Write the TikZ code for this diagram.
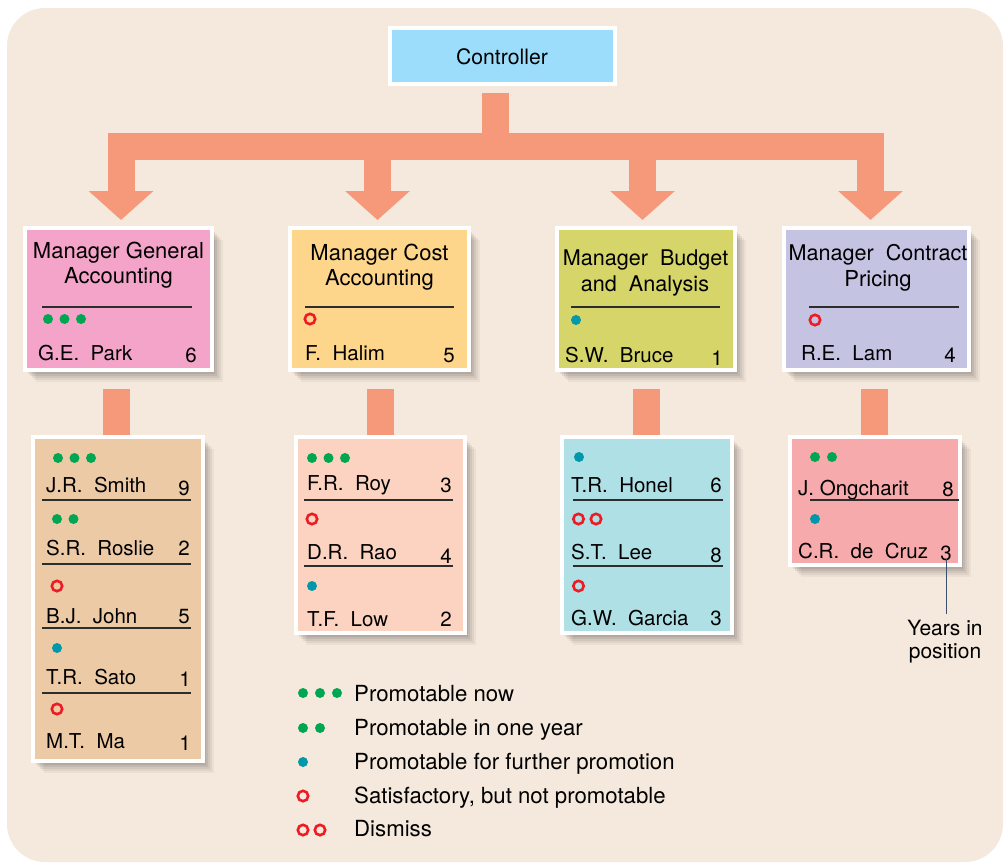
\documentclass[tikz,border=0pt]{standalone}
\usepackage{fontspec}
\setmainfont{TeX Gyre Heros}
\newfontfamily\widefont[WordSpace=2]{TeX Gyre Heros}
\usetikzlibrary{arrows.meta,shadows,calc}
\definecolor{bgc}{RGB}{245,232,220}
\definecolor{ctrlc}{RGB}{155,221,250}
\definecolor{mAc}{RGB}{244,164,201}
\definecolor{mBc}{RGB}{253,214,139}
\definecolor{mCc}{RGB}{214,213,106}
\definecolor{mDc}{RGB}{196,195,226}
\definecolor{sAc}{RGB}{236,202,166}
\definecolor{sBc}{RGB}{252,211,192}
\definecolor{sCc}{RGB}{174,224,230}
\definecolor{sDc}{RGB}{246,170,172}
\definecolor{salmon}{RGB}{246,152,122}
\definecolor{dgreen}{RGB}{0,166,81}
\definecolor{dteal}{RGB}{0,152,170}
\definecolor{dred}{RGB}{237,28,36}
\definecolor{linec}{RGB}{45,45,45}
\definecolor{annot}{RGB}{60,80,105}
\newcommand\fttl{\fontsize{22}{26}\selectfont}
\newcommand\fttlw{\widefont\fontsize{21.6}{26}\selectfont}
\newcommand\fnm{\widefont\fontsize{20.5}{24}\selectfont}
\newcommand\fnmn{\fontsize{20.5}{24}\selectfont}
\newcommand\fleg{\fontsize{22.2}{26}\selectfont}
\newcommand\fyrs{\fontsize{21}{23}\selectfont}
\newcommand\fctl{\fontsize{21.2}{24}\selectfont}
\newcommand\GD[2]{\fill[dgreen] (#1,#2) circle[radius=5pt];}
\newcommand\TD[2]{\fill[dteal] (#1,#2) circle[radius=5pt];}
\newcommand\RC[2]{\draw[dred, line width=2.6pt] (#1,#2) circle[radius=5.2pt];}
\begin{document}
\begin{tikzpicture}[x=1pt,y=-1pt,
  orgbox/.style={draw=white, line width=4pt, inner sep=0pt, outer sep=2pt},
  shd/.style={
    general shadow={fill=black, opacity=0.07, shadow xshift=3pt, shadow yshift=-4pt},
    general shadow={fill=black, opacity=0.07, shadow xshift=5pt, shadow yshift=-6pt},
    general shadow={fill=black, opacity=0.06, shadow xshift=7pt, shadow yshift=-8pt},
    general shadow={fill=black, opacity=0.05, shadow xshift=9pt, shadow yshift=-10pt},
    general shadow={fill=black, opacity=0.04, shadow xshift=11pt, shadow yshift=-12pt}},
  fatarrow/.style={draw=salmon, line width=27pt, line join=miter, line cap=butt, -{Triangle[width=63pt,length=29pt]}},
  stubline/.style={draw=salmon, line width=27pt},
  ttl/.style={inner sep=0pt, anchor=base, font=\fttl},
  ttlw/.style={inner sep=0pt, anchor=base, font=\fttlw},
  nm/.style={inner sep=0pt, anchor=base west, font=\fnm},
  nmn/.style={inner sep=0pt, anchor=base west, font=\fnmn},
  yr/.style={inner sep=0pt, anchor=base east, font=\fnmn},
  divline/.style={draw=linec, line width=1.1pt},
  legtxt/.style={inner sep=0pt, anchor=base west, font=\fleg}
]
\useasboundingbox (0,0) rectangle (1004,863);
\fill[bgc, rounded corners=38pt] (7,8) rectangle (1003,862);

% boxes
\node[orgbox, fill=ctrlc, minimum width=225pt, minimum height=56pt] (c) at (502.5,56) {};
\node[orgbox, shd, fill=mAc, minimum width=187pt, minimum height=142pt] (m1) at (118.5,299) {};
\node[orgbox, shd, fill=mBc, minimum width=179pt, minimum height=142pt] (m2) at (379.5,299) {};
\node[orgbox, shd, fill=mCc, minimum width=178pt, minimum height=142pt] (m3) at (646,299) {};
\node[orgbox, shd, fill=mDc, minimum width=185pt, minimum height=142pt] (m4) at (876.5,299) {};
\node[orgbox, shd, fill=sAc, minimum width=170pt, minimum height=324pt] (s1) at (118,599) {};
\node[orgbox, shd, fill=sBc, minimum width=169pt, minimum height=196pt] (s2) at (380.5,535) {};
\node[orgbox, shd, fill=sCc, minimum width=170pt, minimum height=196pt] (s3) at (647,535) {};
\node[orgbox, shd, fill=sDc, minimum width=170pt, minimum height=128pt] (s4) at (875,501) {};

% fat connectors
\coordinate (stemtop) at ($(c.south)+(-7,7)$);
\draw[fatarrow] (stemtop) -- ++(0,53.5) -| ($(m1.north)+(2.5,-6)$);
\draw[fatarrow] (stemtop) -- ++(0,53.5) -| ($(m2.north)+(-2,-6)$);
\draw[fatarrow] (stemtop) -- ++(0,53.5) -| ($(m3.north)+(-3.5,-6)$);
\draw[fatarrow] (stemtop) -- ++(0,53.5) -| ($(m4.north)+(-6,-6)$);
\draw[stubline] ($(s1.north |- m1.south)+(-1.5,17)$) -- ($(s1.north)+(-1.5,0)$);
\draw[stubline] ($(s2.north |- m2.south)+(0,17)$) -- (s2.north);
\draw[stubline] ($(s3.north |- m3.south)+(-0.5,17)$) -- ($(s3.north)+(-0.5,0)$);
\draw[stubline] ($(s4.north |- m4.south)+(-0.5,17)$) -- ($(s4.north)+(-0.5,0)$);

% controller
\node[inner sep=0pt, anchor=base, font=\fctl] (ct) at (502,64) {Controller};

% manager titles
\node[ttl] (m1a) at (118.5,258) {Manager General};
\node[ttl] (m1b) at (118.5,283) {Accounting};
\node[ttl] (m2a) at (379.5,260.5) {Manager Cost};
\node[ttl] (m2b) at (379.5,285.5) {Accounting};
\node[ttlw] (m3a) at (645.5,265) {Manager Budget};
\node[ttlw] (m3b) at (645,291.5) {and Analysis};
\node[ttlw] (m4a) at (878,260) {Manager Contract};
\node[ttl] (m4b) at (878,286.5) {Pricing};

% manager rules
\draw[divline] (42,307) -- (192,307);
\draw[divline] (305,307) -- (454,307);
\draw[divline] (571,307) -- (720,307);
\draw[divline] (809,307) -- (959,307);

% manager marks
\GD{48}{319}\GD{64.5}{319}\GD{81}{319}
\RC{310}{319}
\TD{576}{320}
\RC{815}{320}

% manager names
\node[nm] (m1n) at (38,360) {G.E. Park};
\node[yr] (m1y) at (197,362) {6};
\node[nm] (m2n) at (305,360) {F. Halim};
\node[yr] (m2y) at (455,362) {5};
\node[nm] (m3n) at (565,362) {S.W. Bruce};
\node[yr] (m3y) at (723,365) {1};
\node[nm] (m4n) at (801,360) {R.E. Lam};
\node[yr] (m4y) at (956,362) {4};

% sub 1
\GD{58}{458}\GD{74.5}{458}\GD{91}{458}
\node[nm] (s1n1) at (46,492) {J.R. Smith};
\node[yr] (s1y1) at (190,495) {9};
\draw[divline] (42,500) -- (191,500);
\GD{57}{519}\GD{73.5}{519}
\node[nm] (s1n2) at (46,555) {S.R. Roslie};
\node[yr] (s1y2) at (190,555) {2};
\draw[divline] (42,564) -- (191,564);
\RC{57}{586}
\node[nm] (s1n3) at (46,623) {B.J. John};
\node[yr] (s1y3) at (190,623) {5};
\draw[divline] (42,628) -- (191,628);
\TD{57}{648}
\node[nm] (s1n4) at (46,684) {T.R. Sato};
\node[yr] (s1y4) at (191,686) {1};
\draw[divline] (42,693) -- (191,693);
\RC{57}{709}
\node[nm] (s1n5) at (46,748) {M.T. Ma};
\node[yr] (s1y5) at (191,750) {1};

% sub 2
\GD{312}{458}\GD{328.5}{458}\GD{345}{458}
\node[nm] (s2n1) at (307,490) {F.R. Roy};
\node[yr] (s2y1) at (452,492) {3};
\draw[divline] (304,500) -- (453,500);
\RC{312}{519}
\node[nm] (s2n2) at (307,559) {D.R. Rao};
\node[yr] (s2y2) at (452,563) {4};
\draw[divline] (304,566) -- (453,566);
\TD{312}{586}
\node[nm] (s2n3) at (307,626) {T.F. Low};
\node[yr] (s2y3) at (452,626) {2};

% sub 3
\TD{579}{457}
\node[nm] (s3n1) at (571,492) {T.R. Honel};
\node[yr] (s3y1) at (722,492) {6};
\draw[divline] (573,500) -- (723,500);
\RC{578.5}{519}\RC{596}{519}
\node[nm] (s3n2) at (571,559) {S.T. Lee};
\node[yr] (s3y2) at (722,562) {8};
\draw[divline] (573,566) -- (723,566);
\RC{578.5}{586}
\node[nm] (s3n3) at (571,625) {G.W. Garcia};
\node[yr] (s3y3) at (722,625) {3};

% sub 4
\GD{815}{457}\GD{832}{457}
\node[nmn] (s4n1) at (798,495) {J. Ongcharit};
\node[yr] (s4y1) at (954,496) {8};
\draw[divline] (810,500) -- (959,500);
\TD{815}{519}
\node[nm] (s4n2) at (798,558) {C.R. de Cruz};
\node[yr] (s4y2) at (952,560) {3};

% annotation
\node[inner sep=0pt, align=center, font=\fyrs, anchor=base] (yrs) at (945,658) {Years in\\position};
\draw[annot, line width=1.2pt] ($(s4y2.south)+(0,-2)$) -- ($(s4y2.south |- yrs.north)+(0,-6)$);

% legend
\GD{303}{693}\GD{320}{693}\GD{337}{693}
\node[legtxt] (lg1) at (354,701) {Promotable now};
\GD{303}{728}\GD{320}{728}
\node[legtxt] (lg2) at (354,735.5) {Promotable in one year};
\TD{303}{762}
\node[legtxt] (lg3) at (354,769) {Promotable for further promotion};
\RC{303}{796}
\node[legtxt] (lg4) at (354,803) {Satisfactory, but not promotable};
\RC{303}{830}\RC{320}{830}
\node[legtxt] (lg5) at (354,836.5) {Dismiss};
\end{tikzpicture}
\end{document}
